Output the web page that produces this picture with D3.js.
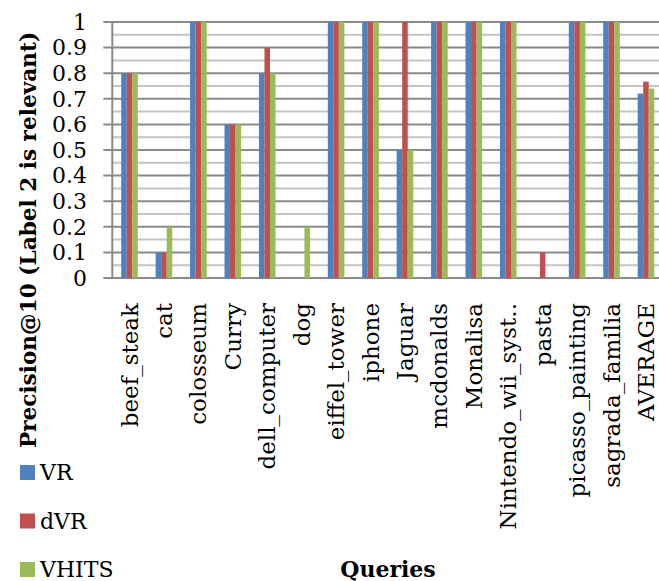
<!DOCTYPE html>
<html><head><meta charset="utf-8">
<script src="https://cdn.jsdelivr.net/npm/d3@7"></script>
<style>body{margin:0;background:#fff}svg{display:block}</style>
</head><body><svg id="c" width="659" height="581"></svg>
<script>
const categories = ["beef_steak","cat","colosseum","Curry","dell_computer","dog","eiffel_tower","iphone","Jaguar","mcdonalds","Monalisa","Nintendo_wii_syst..","pasta","picasso_painting","sagrada_familia","AVERAGE"];
const seriesNames = ["VR","dVR","VHITS"];
const vr    = [0.8,0.1,1,0.6,0.8,0,1,1,0.5,1,1,1,0,1,1,0.72];
const dvr   = [0.8,0.1,1,0.6,0.9,0,1,1,1,1,1,1,0.1,1,1,0.767];
const vhits = [0.8,0.2,1,0.6,0.8,0.2,1,1,0.5,1,1,1,0,1,1,0.74];
const colors = ["#4F81BD","#C0504D","#9BBB59"];
const yTicks = [0,0.1,0.2,0.3,0.4,0.5,0.6,0.7,0.8,0.9,1];

(function(){
const svg = d3.select("#c");
const pL = 112.3, pT = 22, pB = 278;
const band = 34.43;
const font = "DejaVu Serif";
const x = d3.scaleBand().domain(categories).range([pL, pL + band*categories.length]);
const y = d3.scaleLinear().domain([0,1]).range([pB, pT]);
const gw = 16.6;
const xs = d3.scaleBand().domain(seriesNames).range([0, gw]);

const minor = d3.range(0.05, 1, 0.1);
svg.append("g").selectAll("line").data(minor).join("line")
  .attr("x1", pL).attr("x2", 659).attr("y1", d=>y(d)).attr("y2", d=>y(d))
  .attr("stroke", "#c4c4c4").attr("stroke-width", 2);
svg.append("g").selectAll("line").data(yTicks).join("line")
  .attr("x1", pL-9).attr("x2", 659).attr("y1", d=>y(d)).attr("y2", d=>y(d))
  .attr("stroke", "#8a8a8a").attr("stroke-width", 2);
svg.append("line").attr("x1", pL).attr("x2", pL).attr("y1", pT).attr("y2", pB)
  .attr("stroke", "#8a8a8a").attr("stroke-width", 2);

const data = [vr, dvr, vhits];
const g = svg.append("g");
categories.forEach((c, i) => {
  const gx = x(c) + (x.bandwidth() - gw)/2;
  seriesNames.forEach((s, j) => {
    const v = data[j][i];
    if (v <= 0) return;
    g.append("rect").attr("x", gx + xs(s)).attr("width", xs.bandwidth())
      .attr("y", y(v)).attr("height", y(0) - y(v)).attr("fill", colors[j]);
  });
});

svg.append("g").selectAll("text").data(yTicks).join("text")
  .attr("x", 87).attr("y", d=>y(d)).attr("dy", "0.35em")
  .attr("text-anchor", "end").attr("font-family", font).attr("font-size", 22)
  .text(d => d3.format("")(d));

svg.append("g").selectAll("text").data(categories).join("text")
  .attr("transform", d => `translate(${x(d)+x.bandwidth()/2},303) rotate(-90)`)
  .attr("text-anchor", "end").attr("dy", "0.35em")
  .attr("font-family", font).attr("font-size", 23).text(d=>d);

svg.append("text").attr("transform", "translate(28,240) rotate(-90)")
  .attr("text-anchor", "middle").attr("dy", "0.35em")
  .attr("font-family", font).attr("font-weight", "bold").attr("font-size", 21.6)
  .text("Precision@10 (Label 2 is relevant)");

svg.append("text").attr("x", 388).attr("y", 577).attr("text-anchor", "middle")
  .attr("font-family", font).attr("font-weight", "bold").attr("font-size", 22).text("Queries");

const lg = svg.append("g").selectAll("g").data(seriesNames).join("g")
  .attr("transform", (d,i) => `translate(20,${465 + i*48.5})`);
lg.append("rect").attr("width", 15).attr("height", 15).attr("fill", (d,i)=>colors[i]);
lg.append("text").attr("x", 20).attr("y", 15).attr("font-family", font).attr("font-size", 22).text(d=>d);
})();
</script></body></html>
